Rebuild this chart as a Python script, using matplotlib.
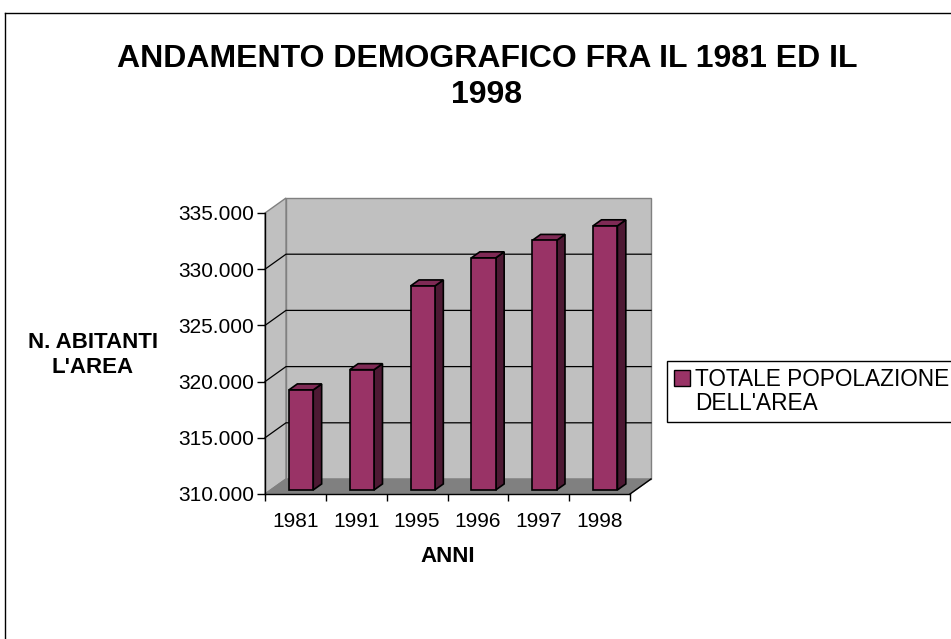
import matplotlib
matplotlib.use("Agg")
import matplotlib.pyplot as plt
import numpy as np
from matplotlib.patches import Polygon, Patch
from matplotlib.lines import Line2D
from matplotlib.transforms import IdentityTransform
from matplotlib.ticker import FuncFormatter

# ---------------- data ----------------
years = ["1981", "1991", "1995", "1996", "1997", "1998"]
population = [318900, 320700, 328150, 330650, 332200, 333500]
y_ticks = [310000, 315000, 320000, 325000, 330000, 335000]
title = "ANDAMENTO DEMOGRAFICO FRA IL 1981 ED IL\n1998"
y_title = "N. ABITANTI\nL'AREA"
x_title = "ANNI"
legend_labels = ["TOTALE POPOLAZIONE", "DELL'AREA"]

# ---------------- style ----------------
plt.rcParams['font.family'] = ['Liberation Sans', 'DejaVu Sans']
FRONT = '#993366'
SIDE = '#4D1933'
TOP = '#7F2A55'
WALL = '#C0C0C0'
FLOOR = '#808080'
EDGE_GRAY = '#808080'

W, H, DPI = 951, 639, 100
fig = plt.figure(figsize=(W / DPI, H / DPI), dpi=DPI)
fig.patch.set_facecolor('white')

def fx(px):
    return px / W

def fy(py):
    return 1 - py / H

# front plane of the 3-D box
ax = fig.add_axes([fx(265), fy(494), (630 - 265) / W, (494 - 213) / H])
ax.set_xlim(-0.5, len(years) - 0.5)
ax.set_ylim(y_ticks[0], y_ticks[-1])
ax.patch.set_visible(False)

DX, DY = 21.0, 15.0  # depth vector in pixels

def proj(x, y, d):
    p = ax.transData.transform((x, y))
    return (p[0] + d * DX, p[1] + d * DY)

x0, x1 = -0.5, len(years) - 0.5
y0, y1 = y_ticks[0], y_ticks[-1]
ident = IdentityTransform()

def poly(pts, fc, ec, lw=1.0, z=1):
    ax.add_patch(Polygon(pts, closed=True, facecolor=fc, edgecolor=ec,
                         linewidth=lw, transform=ident, clip_on=False,
                         zorder=z, joinstyle='miter'))

def line(pts, color, lw=1.0, z=1.5):
    xs = [p[0] for p in pts]
    ys = [p[1] for p in pts]
    ax.add_line(Line2D(xs, ys, color=color, linewidth=lw, transform=ident,
                       clip_on=False, zorder=z))

# walls and floor
poly([proj(x0, y0, 1), proj(x1, y0, 1), proj(x1, y1, 1), proj(x0, y1, 1)], WALL, EDGE_GRAY, 1.0, 1)
poly([proj(x0, y0, 0), proj(x0, y0, 1), proj(x0, y1, 1), proj(x0, y1, 0)], WALL, EDGE_GRAY, 1.0, 1)
poly([proj(x0, y0, 0), proj(x1, y0, 0), proj(x1, y0, 1), proj(x0, y0, 1)], FLOOR, FLOOR, 1.0, 1.1)

# gridlines on the walls
for yv in y_ticks[1:-1]:
    line([proj(x0, yv, 0), proj(x0, yv, 1), proj(x1, yv, 1)], 'black', 0.9, 1.5)

# floor right edge
line([proj(x1, y0, 0), proj(x1, y0, 1)], 'black', 1.0, 1.6)

# bars
bw = 0.40
d0, d1 = 0.27, 0.67
for i, v in enumerate(population):
    L, R = i - bw / 2, i + bw / 2
    poly([proj(R, y0, d0), proj(R, y0, d1), proj(R, v, d1), proj(R, v, d0)], SIDE, 'black', 1.2, 2)
    poly([proj(L, v, d0), proj(R, v, d0), proj(R, v, d1), proj(L, v, d1)], TOP, 'black', 1.2, 2)
    poly([proj(L, y0, d0), proj(R, y0, d0), proj(R, v, d0), proj(L, v, d0)], FRONT, 'black', 1.2, 2.1)

# axes, ticks
for s in ['top', 'right']:
    ax.spines[s].set_visible(False)
for s in ['left', 'bottom']:
    ax.spines[s].set_color('black')
    ax.spines[s].set_linewidth(1.0)
    ax.spines[s].set_zorder(3)

ax.set_yticks(y_ticks)
ax.yaxis.set_major_formatter(FuncFormatter(lambda v, p: f"{int(round(v)):,}".replace(',', '.')))
ax.tick_params(axis='y', direction='out', length=5.5, width=1, color='black',
               labelsize=15, pad=2.5)

ax.set_xticks(range(len(years)))
ax.set_xticklabels(years)
ax.set_xticks(np.arange(-0.5, len(years), 1.0), minor=True)
ax.tick_params(axis='x', which='major', length=0, labelsize=15, pad=13)
ax.tick_params(axis='x', which='minor', direction='out', length=5, width=1, color='black')

ax.set_xlabel(x_title, fontsize=16, fontweight='bold', labelpad=11)
ax.set_ylabel(y_title, fontsize=16, fontweight='bold', rotation=0,
              ha='center', va='center', multialignment='center', linespacing=1.25)
ax.yaxis.set_label_coords((93 - 265) / (630 - 265), (494 - 355) / (494 - 213))

# title
fig.text(fx(487), fy(77), title, ha='center', va='center', fontsize=23,
         fontweight='bold', multialignment='center', linespacing=1.26)

# legend
handles = [Patch(facecolor=FRONT, edgecolor='black', linewidth=1.0),
           Patch(facecolor='none', edgecolor='none')]
leg = ax.legend(handles, legend_labels, loc='upper left',
                bbox_to_anchor=(fx(667), fy(361)), bbox_transform=fig.transFigure,
                frameon=True, fancybox=False, framealpha=1, edgecolor='black',
                fontsize=16.3, borderpad=0.3, borderaxespad=0, handlelength=0.7,
                handleheight=0.7, handletextpad=0.25, labelspacing=0.05)
leg.get_frame().set_linewidth(1.0)
leg.set_zorder(5)

# chart area border (left and top)
fig.add_artist(Line2D([fx(5), fx(5)], [fy(13), 0], transform=fig.transFigure,
                      color='black', linewidth=1.0))
fig.add_artist(Line2D([fx(5), 1], [fy(13), fy(13)], transform=fig.transFigure,
                      color='black', linewidth=1.0))

fig.savefig('out.png', dpi=DPI, facecolor='white')
